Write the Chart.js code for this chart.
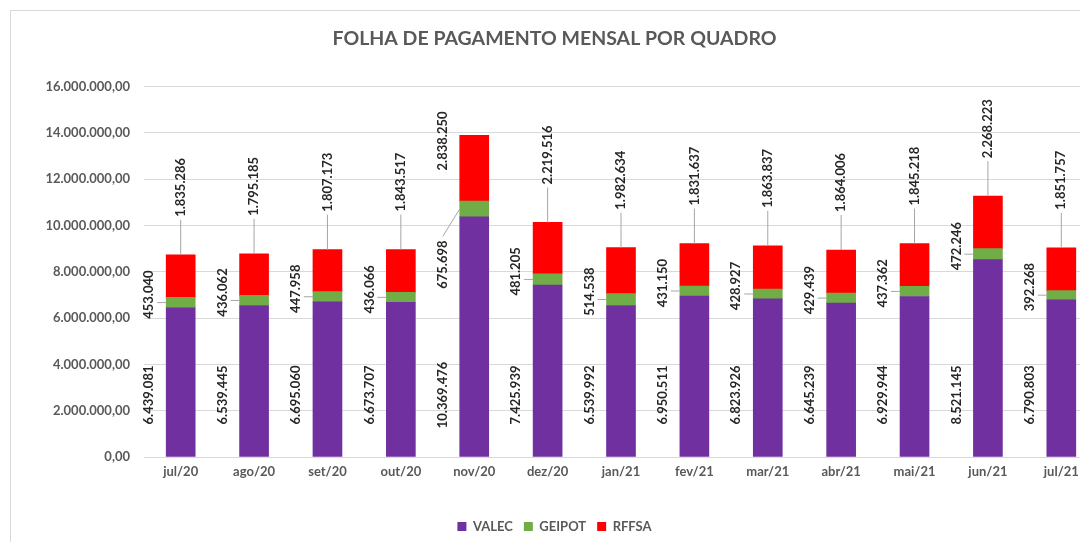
<!DOCTYPE html>
<html>
<head>
<meta charset="utf-8">
<script src="https://cdn.jsdelivr.net/npm/chart.js@4/dist/chart.umd.min.js"></script>
<style>
  html, body { margin: 0; padding: 0; background: #fff; overflow: hidden; }
  #frame {
    position: absolute; left: 10px; top: 10px;
    width: 1100px; height: 532px;
    border-left: 1px solid #d9d9d9; border-top: 1px solid #d9d9d9;
  }
</style>
</head>
<body>
<div id="frame"><canvas id="chart"></canvas></div>
<script>
const months = ['jul/20', 'ago/20', 'set/20', 'out/20', 'nov/20', 'dez/20', 'jan/21', 'fev/21', 'mar/21', 'abr/21', 'mai/21', 'jun/21', 'jul/21']
const valec = [6439081, 6539445, 6695060, 6673707, 10369476, 7425939, 6539992, 6950511, 6823926, 6645239, 6929944, 8521145, 6790803]
const geipot = [453040, 436062, 447958, 436066, 675698, 481205, 514538, 431150, 428927, 429439, 437362, 472246, 392268]
const rffsa = [1835286, 1795185, 1807173, 1843517, 2838250, 2219516, 1982634, 1831637, 1863837, 1864006, 1845218, 2268223, 1851757]
const yTicks = [0, 2000000, 4000000, 6000000, 8000000, 10000000, 12000000, 14000000, 16000000]

const FONT = 'Lato'
const dots = v => String(Math.round(v)).replace(/\B(?=(\d{3})+(?!\d))/g, '.')

// rotated value labels, placed roughly the way the spreadsheet had them
const stackLabels = {
  id: 'stackLabels',
  afterDatasetsDraw (chart) {
    const { ctx, chartArea, scales: { y } } = chart
    ctx.save()
    ctx.font = `bold 13px ${FONT}`
    ctx.fillStyle = '#262626'
    ctx.strokeStyle = '#a6a6a6'
    ctx.lineWidth = 1
    ctx.textAlign = 'center'
    ctx.textBaseline = 'middle'
    const put = (text, cx, cy) => {
      ctx.save()
      ctx.translate(cx, cy)
      ctx.rotate(-Math.PI / 2)
      ctx.fillText(text, 0, 0)
      ctx.restore()
    }
    const line = (x1, y1, x2, y2) => {
      ctx.beginPath()
      ctx.moveTo(x1, y1)
      ctx.lineTo(x2, y2)
      ctx.stroke()
    }
    const topMeta = chart.getDatasetMeta(2).data
    // top label goes beside the bar when it would not fit above it
    const topBeside = i => {
      const bar = topMeta[i]
      const w = ctx.measureText(dots(rffsa[i])).width
      return bar.y - 38 - w < chartArea.top - 5
    }
    chart.data.datasets.forEach((ds, di) => {
      chart.getDatasetMeta(di).data.forEach((bar, i) => {
        const text = dots(ds.data[i])
        const w = ctx.measureText(text).width
        const left = bar.x - bar.width / 2
        if (di === 0) {
          put(text, left - 17, y.getPixelForValue(0) - 62)
        } else if (di === 1) {
          const mid = (bar.y + bar.base) / 2
          if (topBeside(i)) {
            const top = topMeta[i].y + 35 + 70
            put(text, left - 17, top + w / 2)
            line(left - 17, top - 4, left, mid)
          } else {
            put(text, left - 17, mid - 8)
            line(left - 9, mid, left, mid)
          }
        } else {
          const bottom = bar.y - 38
          if (topBeside(i)) {
            put(text, left - 17, bar.y + 35 - w / 2)
          } else {
            put(text, bar.x, bottom - w / 2)
            line(bar.x, bottom + 3, bar.x, bar.y)
          }
        }
      })
    })
    ctx.restore()
  }
}

new Chart(document.getElementById('chart'), {
  type: 'bar',
  data: {
    labels: months,
    datasets: [
      { label: 'VALEC', data: valec, backgroundColor: '#7030a0' },
      { label: 'GEIPOT', data: geipot, backgroundColor: '#70ad47' },
      { label: 'RFFSA', data: rffsa, backgroundColor: '#ff0000' }
    ]
  },
  plugins: [stackLabels],
  options: {
    responsive: true,
    maintainAspectRatio: false,
    animation: false,
    layout: { padding: { left: 0, right: 13, top: 0, bottom: 0 } },
    datasets: { bar: { barThickness: 29 } },
    plugins: {
      title: {
        display: true,
        text: 'FOLHA DE PAGAMENTO MENSAL POR QUADRO',
        color: '#595959',
        font: { family: FONT, size: 19.5, weight: 'bold' },
        padding: { top: 16, bottom: 36 }
      },
      legend: {
        position: 'bottom',
        labels: {
          boxWidth: 9,
          boxHeight: 9,
          padding: 11,
          color: '#595959',
          font: { family: FONT, size: 13, weight: 'bold' }
        }
      },
      tooltip: { enabled: false }
    },
    scales: {
      x: {
        stacked: true,
        grid: { display: false, drawTicks: false },
        border: { color: '#d9d9d9' },
        ticks: {
          padding: 7,
          color: '#595959',
          font: { family: FONT, size: 13, weight: 'bold' }
        },
        afterFit: scale => { scale.height = 52 }
      },
      y: {
        stacked: true,
        min: 0,
        max: 16000000,
        afterBuildTicks: scale => { scale.ticks = yTicks.map(value => ({ value })) },
        grid: { color: '#d9d9d9', drawTicks: false },
        border: { display: false },
        ticks: {
          padding: 14,
          color: '#595959',
          font: { family: FONT, size: 13, weight: 'bold' },
          callback: v => dots(v) + ',00'
        },
        afterFit: scale => { scale.width = 133 }
      }
    }
  }
})
</script>
</body>
</html>
